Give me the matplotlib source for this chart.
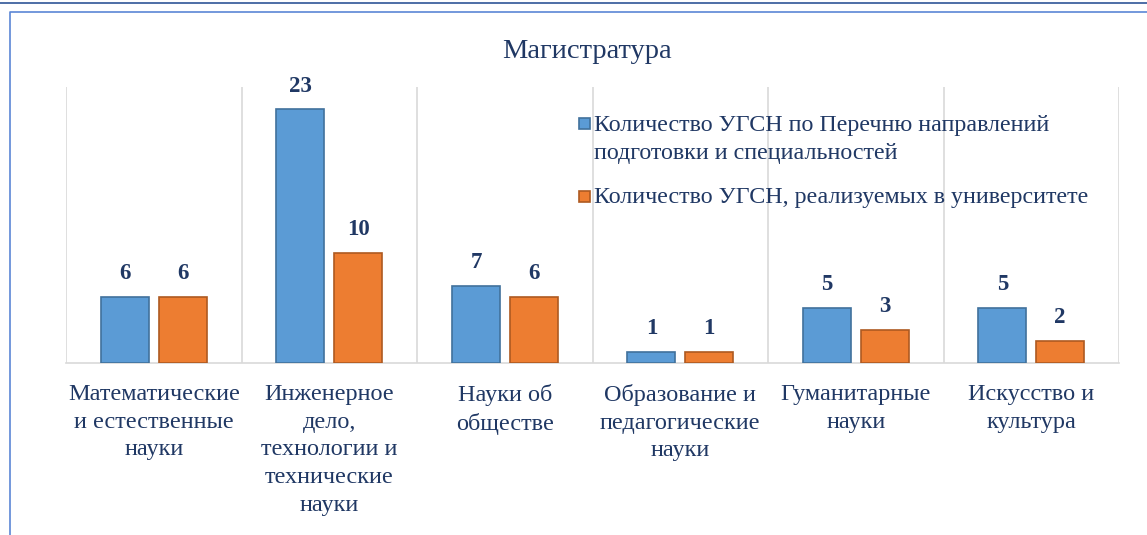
import matplotlib
matplotlib.use("Agg")
import matplotlib.pyplot as plt
from matplotlib.lines import Line2D
from matplotlib.patches import Rectangle
import numpy as np

categories = ["Математические\nи естественные\nнауки",
              "Инженерное\nдело,\nтехнологии и\nтехнические\nнауки",
              "Науки об\nобществе",
              "Образование и\nпедагогические\nнауки",
              "Гуманитарные\nнауки",
              "Искусство и\nкультура"]
series_names = ["Количество УГСН по Перечню направлений\nподготовки и специальностей",
                "Количество УГСН, реализуемых в университете"]
values_list = [6, 23, 7, 1, 5, 5]
values_univ = [6, 10, 6, 1, 3, 2]
title = "Магистратура"

plt.rcParams['font.family'] = ['Liberation Serif', 'DejaVu Serif']
navy = "#203864"
colors = ["#5B9BD5", "#ED7D31"]
edges = ["#41719C", "#AE5A21"]

W, H = 1147, 535
fig = plt.figure(figsize=(W/100, H/100), dpi=100)
ax = fig.add_axes([66/W, 1-363/H, (1119-66)/W, (363-87)/H])

x = np.arange(len(categories))
bw = 48/175.5
off = 28.8/175.5
b1 = ax.bar(x - off, values_list, bw, color=colors[0], edgecolor=edges[0], linewidth=1.2, zorder=3)
b2 = ax.bar(x + off, values_univ, bw, color=colors[1], edgecolor=edges[1], linewidth=1.2, zorder=3)
for bars in (b1, b2):
    ax.bar_label(bars, padding=9, fontsize=16.5, fontweight="bold", color=navy)

ax.set_xlim(-0.5, len(categories) - 0.5)
ax.set_ylim(0, 25)
ax.set_yticks([])
ax.set_xticks(x)
ax.set_xticklabels(categories, fontsize=17.5, color=navy, linespacing=1.42)
ax.tick_params(axis="x", length=0, pad=15)
ax.set_xticks(np.arange(-0.5, len(categories)), minor=True)
ax.tick_params(axis="x", which="minor", length=0)
ax.grid(True, which="minor", axis="x", color="#D9D9D9", linewidth=1.2, zorder=0)
for s in ("top", "right", "left"):
    ax.spines[s].set_visible(False)
ax.spines["bottom"].set_color("#D9D9D9")
ax.spines["bottom"].set_linewidth(1.2)

fig.text(587/W, 1-58/H, title, ha="center", va="baseline", fontsize=20.5, color=navy)

# legend (manual, marker aligned with first text line)
leg_y = [123.5, 196.5]
for i, name in enumerate(series_names):
    fig.add_artist(Rectangle((579/W, 1-(leg_y[i]+5.5)/H), 11/W, 11/H, facecolor=colors[i],
                             edgecolor=edges[i], linewidth=1.2, transform=fig.transFigure))
    fig.text(594/W, 1-(leg_y[i]-9)/H, name, ha="left", va="top", fontsize=17.3, color=navy,
             linespacing=1.45)

fig.add_artist(Line2D([0, 1], [1-3/H, 1-3/H], color="#2F5597", linewidth=1.2, transform=fig.transFigure))
fig.add_artist(Line2D([10/W, 10/W, 1], [0, 1-12/H, 1-12/H], color="#5B86D6", linewidth=1.2,
                      transform=fig.transFigure))

fig.savefig("out.png", dpi=100)
